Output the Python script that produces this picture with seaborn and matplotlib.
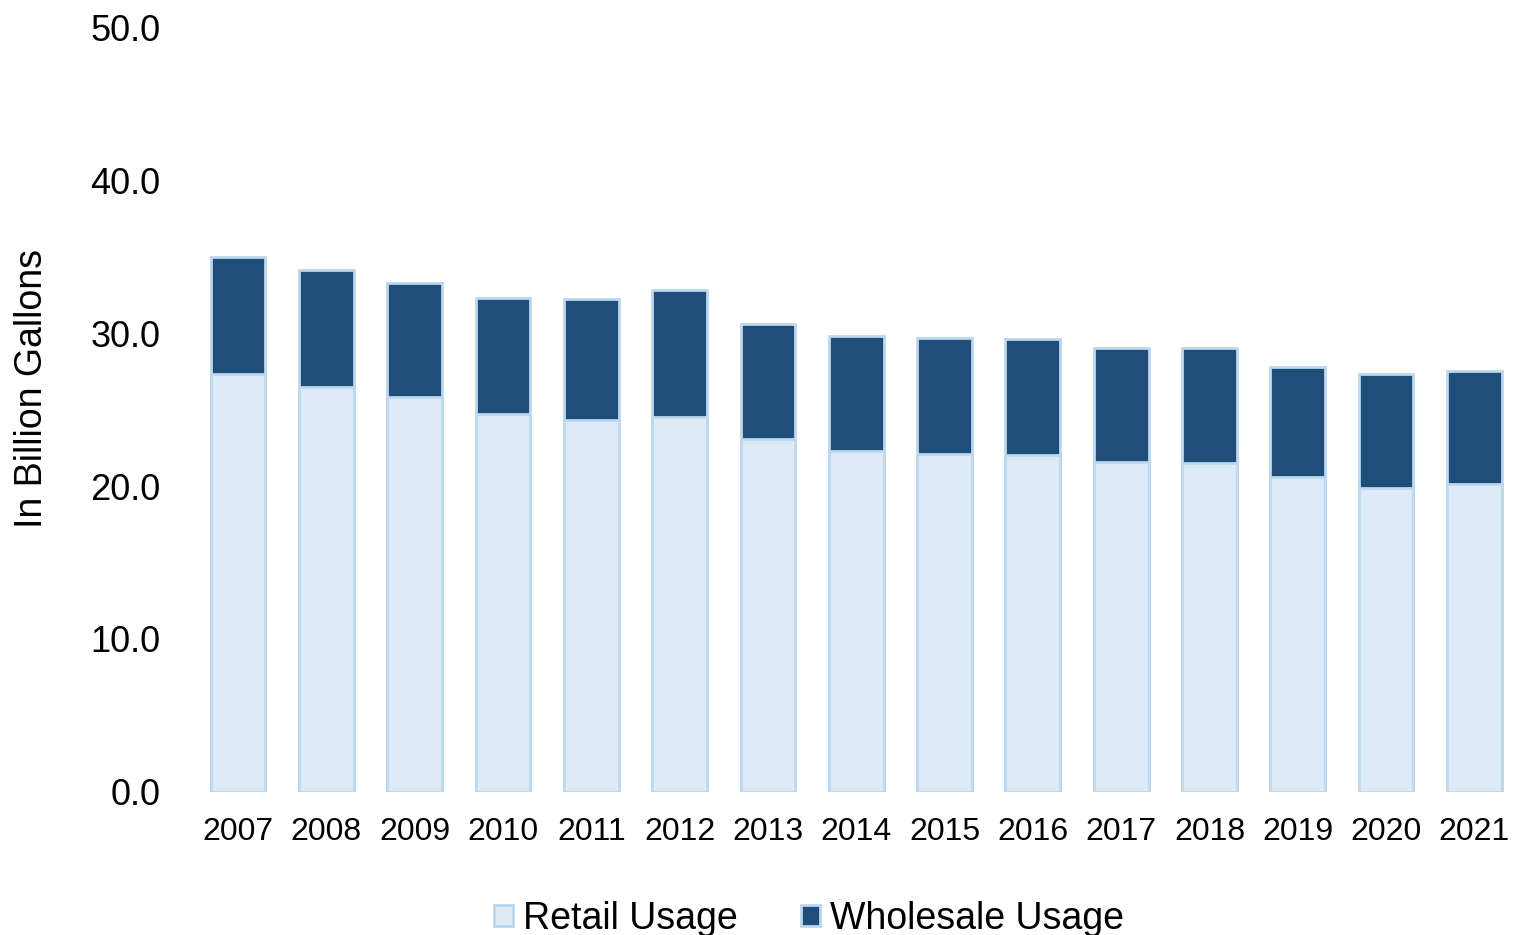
import pandas as pd
import numpy as np
import matplotlib
matplotlib.use("Agg")
import matplotlib.pyplot as plt
import seaborn as sns
from matplotlib.patches import Patch

# Data (billion gallons)
years = ['2007', '2008', '2009', '2010', '2011', '2012', '2013', '2014',
         '2015', '2016', '2017', '2018', '2019', '2020', '2021']
retail = [27.3, 26.5, 25.8, 24.7, 24.3, 24.5, 23.1, 22.3, 22.1, 22.0, 21.6, 21.5, 20.6, 19.9, 20.1]
wholesale = [7.7, 7.6, 7.5, 7.6, 7.9, 8.3, 7.5, 7.5, 7.6, 7.6, 7.4, 7.5, 7.2, 7.4, 7.4]
y_ticks = [0, 10, 20, 30, 40, 50]

df = pd.DataFrame({'Year': years, 'Retail': retail, 'Wholesale': wholesale})
df['Total'] = df['Retail'] + df['Wholesale']

sns.set_theme(style='white')
plt.rcParams['font.family'] = ['Liberation Sans', 'DejaVu Sans']
plt.rcParams['text.color'] = 'black'
plt.rcParams['xtick.color'] = 'black'
plt.rcParams['ytick.color'] = 'black'
plt.rcParams['axes.labelcolor'] = 'black'

retail_color = '#DEEAF6'
wholesale_color = '#1F4E79'
edge_color = '#BDD7EE'

fig = plt.figure(figsize=(15.15, 9.35), dpi=100)
ax = fig.add_axes([0.128, 0.153, 0.872, 0.818])

# Stacked bars: full height in dark, then retail part over it
sns.barplot(data=df, x='Year', y='Total', color=wholesale_color, saturation=1,
            width=0.62, edgecolor=edge_color, linewidth=2, ax=ax)
sns.barplot(data=df, x='Year', y='Retail', color=retail_color, saturation=1,
            width=0.62, edgecolor=edge_color, linewidth=2, ax=ax)

ax.set_ylim(0, 50)
ax.set_xlim(-0.5, 14.46)
ax.set_yticks(y_ticks)
ax.set_yticklabels([f'{v:.1f}' for v in y_ticks], fontsize=26)
ax.tick_params(axis='x', labelsize=23, pad=18, length=0)
ax.tick_params(axis='y', pad=24, length=0)
ax.set_xlabel('')
ax.set_ylabel('In Billion Gallons', fontsize=27, labelpad=29, y=0.528)
sns.despine(ax=ax, left=True, bottom=True)

handles = [Patch(facecolor=retail_color, edgecolor=edge_color, linewidth=2, label='Retail Usage'),
           Patch(facecolor=wholesale_color, edgecolor=edge_color, linewidth=2, label='Wholesale Usage')]
fig.legend(handles=handles, loc='center', bbox_to_anchor=(0.534, 0.017), ncol=2,
           frameon=False, fontsize=27, handlelength=0.5, handleheight=0.5,
           handletextpad=0.27, columnspacing=1.7, borderpad=0)

fig.savefig('out.png', dpi=100)
